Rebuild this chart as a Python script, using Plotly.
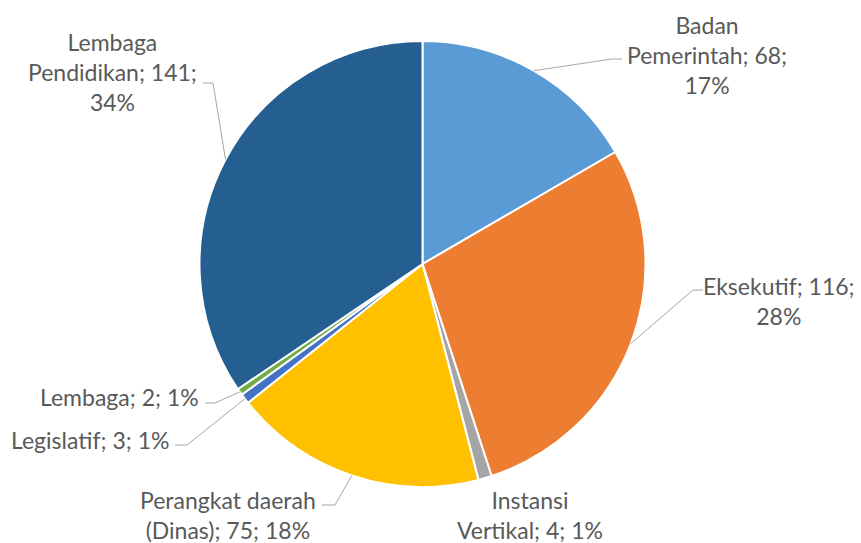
import math
import plotly.graph_objects as go

# data
labels = ["Badan Pemerintah", "Eksekutif", "Instansi Vertikal",
          "Perangkat daerah (Dinas)", "Legislatif", "Lembaga", "Lembaga Pendidikan"]
values = [68, 116, 4, 75, 3, 2, 141]
pct_labels = ["17%", "28%", "1%", "18%", "1%", "1%", "34%"]
label_lines = [
    ["Badan", "Pemerintah; 68;", "17%"],
    ["Eksekutif; 116;", "28%"],
    ["Instansi", "Vertikal; 4; 1%"],
    ["Perangkat daerah", "(Dinas); 75; 18%"],
    ["Legislatif; 3; 1%"],
    ["Lembaga; 2; 1%"],
    ["Lembaga", "Pendidikan; 141;", "34%"],
]
colors = ["#5B9BD5", "#ED7D31", "#A5A5A5", "#FFC000", "#4472C4", "#70AD47", "#255E91"]

OFF = 8  # page body margin
W, H = 861 - OFF, 543 - OFF
CX, CY, R = 422.5, 264, 223

# label placement in screen pixels, plus leader line elbow points
label_pos = [
    (707, 55),
    (779, 301),
    (530, 515),
    (228, 515),
    (90, 440),
    (119, 397),
    (112, 72),
]
elbows = [
    [(612, 59), (622, 59)],
    [(693, 290), (703, 290)],
    None,
    [(335, 505), (322, 505)],
    [(187, 445), (175, 445)],
    [(215, 403), (205, 403)],
    [(213, 83), (203, 83)],
]


def px(x, y):
    return (x - OFF) / W, 1 - (y - OFF) / H


fig = go.Figure(go.Pie(
    labels=labels,
    values=values,
    sort=False,
    direction="clockwise",
    rotation=0,
    marker=dict(colors=colors, line=dict(color="white", width=2)),
    textinfo="none",
    hoverinfo="label+value+percent",
    domain=dict(x=[(CX - R - OFF) / W, (CX + R - OFF) / W],
                y=[1 - (CY + R - OFF) / H, 1 - (CY - R - OFF) / H]),
))

annotations = []
shapes = []
total = sum(values)
cum = 0
for i, v in enumerate(values):
    mid = (cum + v / 2) / total
    cum += v
    ang = 2 * math.pi * mid
    rx = CX + R * math.sin(ang)
    ry = CY - R * math.cos(ang)

    ax, ay = px(*label_pos[i])
    annotations.append(dict(
        x=ax, y=ay, xref="paper", yref="paper",
        text="<br>".join(label_lines[i]),
        showarrow=False, xanchor="center", yanchor="middle", align="center",
        font=dict(family="Lato", size=23, color="#595959"),
    ))

    if elbows[i]:
        pts = [(rx, ry)] + elbows[i]
        path = "M " + " L ".join(f"{x},{y}" for x, y in (px(*p) for p in pts))
        shapes.append(dict(type="path", xref="paper", yref="paper", path=path,
                           line=dict(color="#A6A6A6", width=1)))

fig.update_layout(
    width=W, height=H,
    margin=dict(l=0, r=0, t=0, b=0),
    showlegend=False,
    paper_bgcolor="white",
    annotations=annotations,
    shapes=shapes,
)

fig.write_html("out.html")
